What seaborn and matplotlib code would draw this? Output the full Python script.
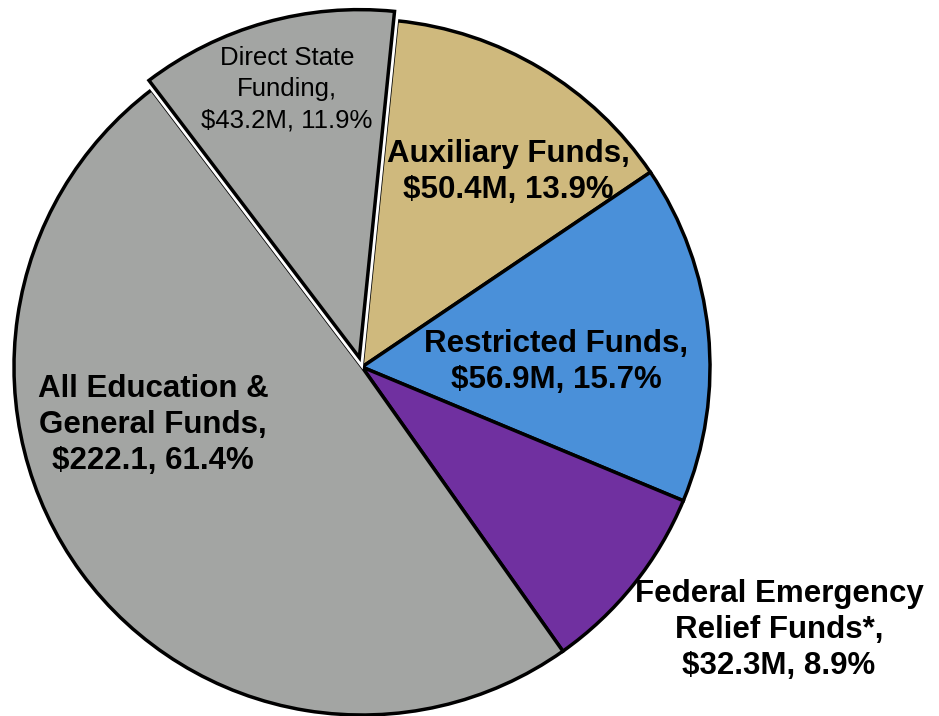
import matplotlib
matplotlib.use("Agg")
import matplotlib.pyplot as plt
import matplotlib.patheffects as pe
import seaborn as sns

# ---- data ----
categories = ["Auxiliary Funds", "Restricted Funds", "Federal Emergency\nRelief Funds*",
              "All Education &\nGeneral Funds", "Direct State\nFunding"]
label_amounts = ["$50.4M", "$56.9M", "$32.3M", "$222.1", "$43.2M"]
label_pcts = ["13.9%", "15.7%", "8.9%", "61.4%", "11.9%"]
slice_values = [50.4, 56.9, 32.3, 222.1 - 43.2, 43.2]
colors = ["#CFB97D", "#4A90D9", "#7030A0", "#A3A5A3", "#A3A5A3"]
explode = [0, 0, 0, 0, 0.028]

sns.set_theme(style="white")
plt.rcParams["font.family"] = ["Liberation Sans", "DejaVu Sans"]

W, H = 939, 716
fig = plt.figure(figsize=(W / 100, H / 100), dpi=100)
ax = fig.add_axes([0, 0, 1, 1])

cx, cy, R = 362, 367, 348
wedges, _ = ax.pie(slice_values, colors=colors, explode=explode, startangle=84.2,
                   counterclock=False, radius=1.0,
                   wedgeprops=dict(edgecolor="black", linewidth=2.5))
# white halo around exploded slice
wedges[-1].set_path_effects([pe.Stroke(linewidth=6.5, foreground="white"), pe.Normal()])
wedges[-1].set_zorder(3)

ax.set_aspect("auto")
ax.set_xlim(-cx / R, (W - cx) / R)
ax.set_ylim((cy - H) / R, cy / R)
ax.axis("off")

# label layout (pixel centres -> data coords)
label_px = [(508, 172), (556, 362), (779, 630), (153, 425), (287, 89)]
bold = [True, True, True, True, False]
sizes = [22.5, 22.5, 22.5, 22.5, 18.5]
for cat, amt, pct, (px, py), b, s in zip(categories, label_amounts, label_pcts,
                                          label_px, bold, sizes):
    ax.text((px - cx) / R, (cy - py) / R, f"{cat},\n{amt}, {pct}",
            ha="center", va="center", fontsize=s,
            fontweight="bold" if b else "normal", color="black",
            linespacing=1.24 if b else 1.38, zorder=5)

fig.savefig("out.png", dpi=100)
